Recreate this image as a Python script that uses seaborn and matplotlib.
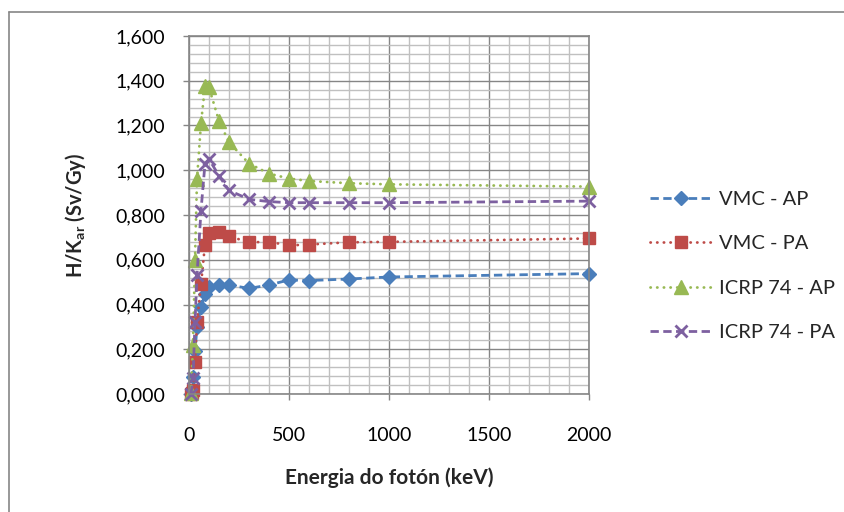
import numpy as np
import pandas as pd
import seaborn as sns
import matplotlib.pyplot as plt
from matplotlib.ticker import MultipleLocator, FuncFormatter
from matplotlib.lines import Line2D

# dados (energia em keV, H/Kar em Sv/Gy)
vmc_e = [10, 15, 20, 30, 40, 60, 80, 100, 150, 200, 300, 400, 500, 600, 800, 1000, 2000]
vmc_ap = [0.0, 0.01, 0.075, 0.19, 0.30, 0.39, 0.445, 0.48, 0.485, 0.487, 0.472, 0.487,
          0.51, 0.507, 0.514, 0.523, 0.538]
vmc_pa = [0.0, 0.005, 0.02, 0.145, 0.32, 0.49, 0.668, 0.72, 0.722, 0.705, 0.678, 0.68,
          0.664, 0.668, 0.678, 0.68, 0.695]

icrp_e = [10, 20, 30, 40, 60, 80, 100, 150, 200, 300, 400, 500, 600, 800, 1000, 2000]
icrp_ap = [0.005, 0.22, 0.60, 0.96, 1.21, 1.375, 1.37, 1.22, 1.125, 1.03, 0.985, 0.963,
           0.952, 0.942, 0.937, 0.927]
icrp_pa = [0.0, 0.07, 0.32, 0.53, 0.82, 1.03, 1.05, 0.975, 0.91, 0.87, 0.86, 0.855,
           0.855, 0.855, 0.855, 0.862]

series_names = ['VMC - AP', 'VMC - PA', 'ICRP 74 - AP', 'ICRP 74 - PA']

sns.set_style('white')
plt.rcParams['font.family'] = ['Lato', 'DejaVu Sans']
plt.rcParams['mathtext.fontset'] = 'custom'
plt.rcParams['mathtext.rm'] = 'Lato:bold'

fig = plt.figure(figsize=(8.45, 5.12), dpi=100)
ax = fig.add_axes([189 / 845, 1 - 394 / 512, 400 / 845, 358 / 512])

# estilo de cada serie (cor, marcador, tamanho, tracejado)
styles = [
    dict(color='#4A7EBB', marker='D', ms=7.0, dashes=(3.0, 1.6), round_caps=False),
    dict(color='#BE4B48', marker='s', ms=8.5, dashes=(0.1, 2.3), round_caps=True),
    dict(color='#98B954', marker='^', ms=10, dashes=(0.1, 2.3), round_caps=True),
    dict(color='#7D60A0', marker='x', ms=8.5, dashes=(3.0, 1.6), round_caps=False),
]
xs = [vmc_e, vmc_e, icrp_e, icrp_e]
ys = [vmc_ap, vmc_pa, icrp_ap, icrp_pa]

for name, x, y, st in zip(series_names, xs, ys, styles):
    df = pd.DataFrame({'energia': x, 'hk': y})
    sns.lineplot(data=df, x='energia', y='hk', ax=ax, color=st['color'],
                 marker=st['marker'], markersize=st['ms'], linewidth=2.0,
                 markeredgecolor=st['color'], markeredgewidth=2 if st['marker'] == 'x' else 1,
                 label=name, estimator=None, sort=True)
    ln = ax.lines[-1]
    ln.set_dashes(st['dashes'])
    if st['round_caps']:
        ln.set_dash_capstyle('round')
    ln.set_clip_on(False)

ax.set_xlim(0, 2000)
ax.set_ylim(0, 1.6)
ax.xaxis.set_major_locator(MultipleLocator(500))
ax.xaxis.set_minor_locator(MultipleLocator(100))
ax.yaxis.set_major_locator(MultipleLocator(0.2))
ax.yaxis.set_minor_locator(MultipleLocator(0.04))
ax.yaxis.set_major_formatter(FuncFormatter(lambda v, p: f'{v:.3f}'.replace('.', ',')))

ax.grid(True, which='major', color='#868686', linewidth=1.0)
ax.grid(True, which='minor', color='#C0C0C0', linewidth=1.0)
ax.set_axisbelow(True)
for sp in ax.spines.values():
    sp.set_color('#868686')
    sp.set_linewidth(1.2)

ax.tick_params(axis='both', which='major', direction='out', length=4, width=1,
               color='#868686', labelsize=14, labelcolor='black')
ax.tick_params(axis='y', which='major', pad=13, left=True)
ax.tick_params(axis='x', which='major', pad=20, bottom=True)
ax.tick_params(which='minor', length=0)

ax.set_xlabel('Energia do fotón (keV)', fontsize=15, fontweight='bold')
ax.set_ylabel(r'H/K$_{\mathrm{ar}}$ (Sv/Gy)', fontsize=14.5, fontweight='bold')
ax.xaxis.set_label_coords(0.5, -0.205)
ax.yaxis.set_label_coords(-0.2525, 0.5)

leg = ax.legend(loc='center left', bbox_to_anchor=(650 / 845, 1 - 266 / 512),
                bbox_transform=fig.transFigure, frameon=False, fontsize=14.5,
                handlelength=3.1, handletextpad=0.35, labelspacing=1.35,
                borderpad=0, borderaxespad=0)

# borda externa do grafico
fig.add_artist(Line2D([9 / 845, 1], [1 - 12 / 512, 1 - 12 / 512], color='#868686',
                      linewidth=1.2, transform=fig.transFigure))
fig.add_artist(Line2D([9 / 845, 9 / 845], [0, 1 - 12 / 512], color='#868686',
                      linewidth=1.2, transform=fig.transFigure))

fig.savefig('out.png', dpi=100)
